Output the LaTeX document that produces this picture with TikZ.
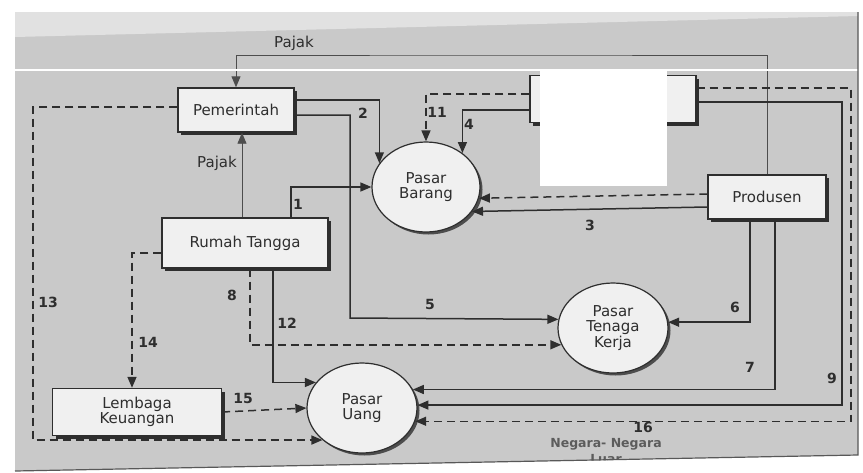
\documentclass[tikz,border=0pt]{standalone}
\usepackage{fontspec}
\setmainfont{DejaVu Sans}
\usetikzlibrary{arrows.meta,shapes.geometric,shadows}
\definecolor{ink}{HTML}{2E2E2E}
\definecolor{paper}{HTML}{C9C9C9}
\definecolor{card}{HTML}{F0F0F0}
\definecolor{faded}{HTML}{5C5C5C}

\begin{document}
\begin{tikzpicture}[x=1pt, y=-1pt, font=\fontsize{15}{15.5}\selectfont, >={Triangle[length=11pt,width=9pt]},
  box/.style={draw=ink, line width=1.4pt, fill=card, minimum height=44pt, inner sep=0pt, align=center, text=ink,
    drop shadow={shadow xshift=3pt, shadow yshift=-3pt, fill=ink, opacity=1}},
  pasar/.style={ellipse, draw=ink, line width=1.2pt, fill=card, minimum width=110pt, minimum height=90pt, inner sep=0pt,
    align=center, text=ink, drop shadow={shadow xshift=2.5pt, shadow yshift=-2.5pt, fill=ink!85, opacity=1}},
  fl/.style={->, draw=ink, line width=1.5pt},
  dfl/.style={fl, dash pattern=on 8pt off 5pt},
  pj/.style={->, draw=ink!85, line width=0.9pt},
  num/.style={font=\fontsize{14}{16}\selectfont\bfseries, text=ink}]
\useasboundingbox (0,0) rectangle (863,472);
% scanned page
\fill[white] (0,0) rectangle (863,472);
\fill[paper] (15,12) -- (858,12) -- (858,455) -- (15,471) -- cycle;
\fill[paper!55] (15,12) -- (858,12) -- (858,16) -- (15,37) -- cycle;

\node[box, minimum width=116pt] (pem) at (236,110) {Pemerintah};
\node[box, minimum width=166pt, minimum height=47pt] (ln) at (613,99) {};
\node[box, minimum width=118pt] (pro) at (767,197) {Produsen};
\node[box, minimum width=166pt, minimum height=50pt] (rt) at (245,243) {Rumah Tangga};
\node[box, minimum width=169pt, minimum height=47pt] (lk) at (137,412) {Lembaga\\Keuangan};
\node[pasar, minimum width=108pt] (pb) at (426,187) {Pasar\\Barang};
\node[pasar] (ptk) at (613,328) {Pasar\\Tenaga\\Kerja};
\node[pasar] (pu) at (362,408) {Pasar\\Uang};

% pajak
\draw[pj] (pro.north) |- (500,55) -| (pem.north);
\node[text=ink] (pj1) at (294,43) {Pajak};
\draw[pj] ([xshift=-3pt]rt.north) -- ([xshift=6pt]pem.south);
\node[text=ink] (pj2) at (217,163) {Pajak};

% flows
\draw[fl] ([xshift=46pt]rt.north) |- (pb.west);
\draw[fl] ([yshift=10pt]pem.east) -| (pb.153);
\draw[dfl] ([yshift=5pt]ln.west) -| (pb.north);
\draw[fl] ([yshift=-11pt]ln.west) -| (pb.43);
\draw[fl] ([yshift=-10pt]pro.west) -- (pb.-28);
\draw[dfl] ([yshift=3pt]pro.west) -- (pb.-12);
\draw[fl] ([yshift=-5pt]pem.east) -| (350,318) -- (ptk.171);
\draw[dfl] ([xshift=5pt]rt.south) |- (ptk.198);
\draw[fl] ([xshift=-17pt]pro.south) |- (ptk.6);
\draw[fl] ([xshift=28pt]rt.south) |- (pu.151);
\draw[dfl] (lk.east) -- (pu.west);
\draw[dfl] ([yshift=3pt]pem.west) -| (33,300) |- (pu.219);
\draw[dfl] ([yshift=-10pt]rt.west) -| ([xshift=-5pt]lk.north);
\draw[fl] ([xshift=8pt]pro.south) |- (pu.20);
\draw[fl] ([yshift=-3pt]ln.east) -| (842,300) |- (pu.3);
\draw[dfl] ([yshift=11pt]ln.east) -| (851,300) |- (pu.-14);

\foreach \x/\y/\t in {298/204/1, 363/113/2, 590/225/3, 469/124/4, 430/304/5, 735/307/6, 750/367/7,
  232/295/8, 832/378/9, 437/112/11, 287/323/12, 48/302/13, 148/342/14, 243/398/15, 643/427/16}
  \node[num] (n\t) at (\x,\y) {\t};
\node[font=\fontsize{12.5}{16}\selectfont\bfseries, text=faded, align=center] (nl) at (606,451) {Negara- Negara\\Luar};

% scan marks
\fill[white] (540,70) rectangle (667,186);
\draw[white, line width=1.5pt] (0,70) -- (863,70);
\fill[white] (15,471.5) -- (858,455.5) -- (863,455.5) -- (863,472) -- cycle;
\draw[ink!80, line width=1.2pt] (858,12) -- (858,455) -- (15,471);
\end{tikzpicture}
\end{document}
